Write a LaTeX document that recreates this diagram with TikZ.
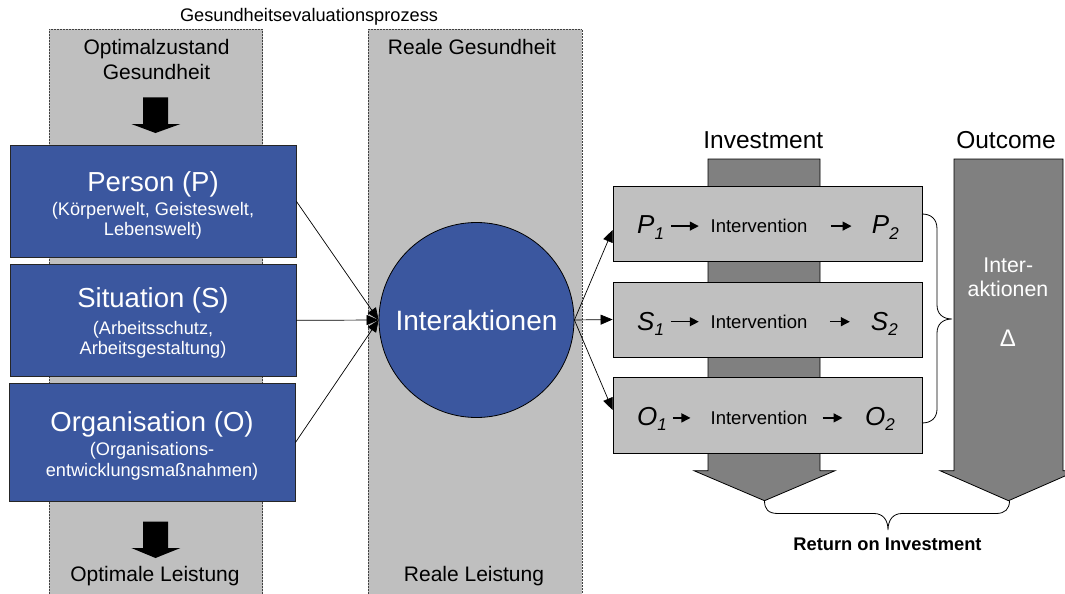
\documentclass[tikz,border=0pt]{standalone}
\usepackage{fontspec}
\setmainfont{Liberation Sans}
\usetikzlibrary{arrows.meta,calc}
\definecolor{colgray}{HTML}{BFBFBF}
\definecolor{boxgray}{HTML}{C0C0C0}
\definecolor{arrgray}{HTML}{808080}
\definecolor{boxblue}{HTML}{3B579F}
\newcommand{\setfs}[1]{\fontsize{#1}{#1}\selectfont}
\newcommand{\varsub}[2]{{\setfs{26}\itshape #1}\raisebox{-5.5pt}{\setfs{17}\itshape #2}}
\begin{document}
\begin{tikzpicture}[x=1pt,y=-1pt,
  column/.style={fill=colgray,draw=black!75,densely dotted,line width=0.5pt},
  factor/.style={draw=black!85,fill=boxblue,line width=0.8pt,inner sep=0pt,minimum width=286pt},
  rowbox/.style={draw=black,fill=boxgray,line width=0.8pt,inner sep=0pt,minimum width=309pt,minimum height=75pt},
  bigarrow/.style={draw=black,fill=arrgray,line width=0.8pt,line join=miter},
  link/.style={line width=0.7pt,-{Triangle[length=12pt,width=10pt]}},
  smallarrow/.style={line width=1.3pt,-{Triangle[length=9pt,width=9pt]}},
  brace/.style={draw=black,line width=0.8pt},
  lbl/.style={anchor=base,inner sep=0pt},
  wlbl/.style={anchor=base,inner sep=0pt,text=white}]
\useasboundingbox (0,0) rectangle (1065,594);
\clip (0,0) rectangle (1065,594);

% background columns
\path[column] (49,29.3) rectangle (262.5,600);
\path[column] (368,29.3) rectangle (582,600);

\node[lbl,font=\setfs{18.2}] (title) at (309,22) {Gesundheitsevaluationsprozess};
\node[lbl,font=\setfs{21}] (optA) at (156.5,55) {Optimalzustand};
\node[lbl,font=\setfs{21}] (optB) at (156.5,80) {Gesundheit};
\node[lbl,font=\setfs{21}] (realA) at (472,55) {Reale Gesundheit};
\node[lbl,font=\setfs{21}] (optL) at (155,581.7) {Optimale Leistung};
\node[lbl,font=\setfs{21}] (realL) at (474,581.7) {Reale Leistung};

% block arrows in the left column
\fill (143,97.3) -- (168,97.3) -- (168,124) -- (180.4,124) -- (155.5,133) -- (131.4,124) -- (143,124) -- cycle;
\fill (143,521.7) -- (168,521.7) -- (168,548) -- (180.4,548) -- (155.5,558) -- (131.4,548) -- (143,548) -- cycle;

% influencing factors
\node[factor,minimum height=112.7pt] (person) at (153,201.35) {};
\node[factor,minimum height=112.7pt] (situation) at (153,320.35) {};
\node[factor,minimum height=118.4pt] (organisation) at (152,442.5) {};

\node[wlbl,font=\setfs{27.5}] (personT) at (153,191) {Person (P)};
\node[wlbl,font=\setfs{18.2}] (personS1) at (153,215) {(Körperwelt, Geisteswelt,};
\node[wlbl,font=\setfs{18.2}] (personS2) at (153,235.5) {Lebenswelt)};
\node[wlbl,font=\setfs{27.5}] (situationT) at (153,307.5) {Situation (S)};
\node[wlbl,font=\setfs{18.2}] (situationS1) at (153,334) {(Arbeitsschutz,};
\node[wlbl,font=\setfs{18.2}] (situationS2) at (153,354) {Arbeitsgestaltung)};
\node[wlbl,font=\setfs{27.5}] (organisationT) at (152,431) {Organisation (O)};
\node[wlbl,font=\setfs{18.2}] (organisationS1) at (152,455) {(Organisations-};
\node[wlbl,font=\setfs{18.2}] (organisationS2) at (152,476) {entwicklungsmaßnahmen)};

% interactions
\node[circle,draw=black,line width=0.8pt,fill=boxblue,minimum size=195pt,inner sep=0pt] (circ) at (476.5,320) {};
\node[wlbl,font=\setfs{28}] (circT) at (476.5,330) {Interaktionen};

% investment and outcome arrows
\draw[bigarrow] (708,159) -- (820,159) -- (820,470.7) -- (835,470.7) -- (764.5,500.7) -- (694,470.7) -- (708,470.7) -- cycle;
\draw[bigarrow] (954,159) -- (1063,159) -- (1063,470.7) -- (1077,470.7) -- (1008.5,500.7) -- (940,470.7) -- (954,470.7) -- cycle;
\coordinate (invtip) at (764.5,500.7);
\coordinate (outtip) at (1009.5,500.7);

\node[lbl,font=\setfs{24.5}] (invT) at (763.3,148) {Investment};
\node[lbl,font=\setfs{24.5}] (outT) at (1006,148) {Outcome};
\node[wlbl,font=\setfs{21.3}] (outA) at (1008.3,272.7) {Inter-};
\node[wlbl,font=\setfs{21.3}] (outB) at (1008,296.7) {aktionen};
\node[wlbl,font=\setfs{24}] (outD) at (1008,346) {Δ};

% intervention rows
\node[rowbox] (pbox) at (767.5,223.5) {};
\node[rowbox] (sbox) at (767.5,319.5) {};
\node[rowbox,minimum height=75.6pt] (obox) at (767.5,415.5) {};

\node[lbl,anchor=base west] (p1) at (637,233.5) {\varsub{P}{1}};
\node[lbl,font=\setfs{18.5}] (ivP) at (759,232.7) {Intervention};
\node[lbl,anchor=base west] (p2) at (871.7,233.5) {\varsub{P}{2}};
\draw[smallarrow] ($(ivP.base west)+(-39,-6.6)$) -- ($(ivP.base west)+(-11.7,-6.6)$);
\draw[smallarrow] ($(ivP.base east)+(23.3,-6.6)$) -- ($(ivP.base east)+(44,-6.6)$);

\node[lbl,anchor=base west] (s1) at (637,330) {\varsub{S}{1}};
\node[lbl,font=\setfs{18.5}] (ivS) at (759,328.3) {Intervention};
\node[lbl,anchor=base west] (s2) at (870.7,330) {\varsub{S}{2}};
\draw[smallarrow] ($(ivS.base west)+(-39.7,-6.6)$) -- ($(ivS.base west)+(-11.7,-6.6)$);
\draw[smallarrow] ($(ivS.base east)+(22.3,-6.6)$) -- ($(ivS.base east)+(42.3,-6.6)$);

\node[lbl,anchor=base west] (o1) at (637,425) {\varsub{O}{1}};
\node[lbl,font=\setfs{18.5}] (ivO) at (759,424.5) {Intervention};
\node[lbl,anchor=base west] (o2) at (865,425) {\varsub{O}{2}};
\draw[smallarrow] ($(ivO.base west)+(-37.7,-6.6)$) -- ($(ivO.base west)+(-20,-6.6)$);
\draw[smallarrow] ($(ivO.base east)+(15,-6.6)$) -- ($(ivO.base east)+(35,-6.6)$);

% connectors
\draw[link] (person.east) -- (circ.west);
\draw[link] (situation.east) -- (circ.west);
\draw[link] (organisation.east) -- (circ.west);
\draw[link] (circ.east) -- ($(pbox.west)+(0,6.5)$);
\draw[link] (circ.east) -- (sbox.west);
\draw[link] (circ.east) -- ($(obox.west)+(0,-5.5)$);

% braces
\coordinate (rbT) at (922,214);
\coordinate (rbB) at (922,423);
\draw[brace] (rbT) .. controls (931,214) and (937,219) .. (937,229) -- (937,305)
  .. controls (937,314) and (943,319) .. (952,319)
  .. controls (943,319) and (937,324) .. (937,333) -- (937,409)
  .. controls (937,418) and (931,423) .. (rbB);
\draw[brace] (invtip) .. controls (764.5,509) and (768,513.5) .. (778,513.5) -- (874,513.5)
  .. controls (883,513.5) and (888,520) .. (888,530)
  .. controls (888,520) and (893,513.5) .. (902,513.5) -- (996,513.5)
  .. controls (1005,513.5) and (1009.5,509) .. (outtip);

\node[lbl,font=\setfs{18.3}\bfseries] (roi) at (887.5,550.7) {Return on Investment};
\end{tikzpicture}
\end{document}
